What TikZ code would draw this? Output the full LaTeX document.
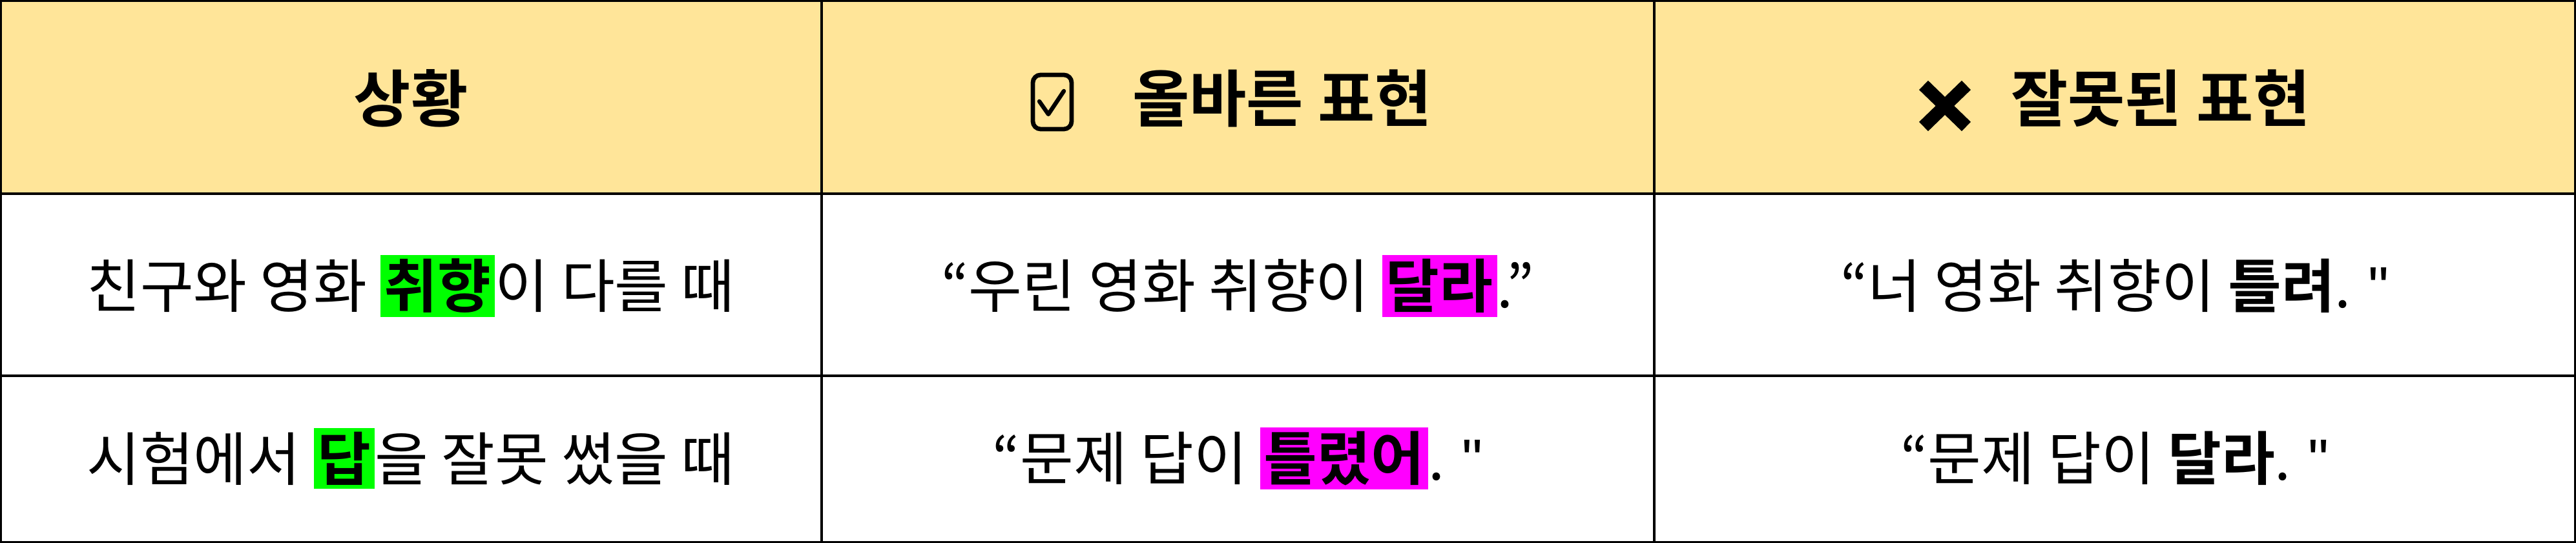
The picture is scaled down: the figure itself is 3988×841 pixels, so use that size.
\documentclass[tikz,border=0pt]{standalone}
\usepackage{fontspec}
\setmainfont{Noto Sans CJK KR}[BoldFont={Noto Sans CJK KR Bold}]
\newfontfamily\qf{Liberation Sans}
\definecolor{hdr}{HTML}{FFE599}
\definecolor{hg}{HTML}{00FF00}
\definecolor{hm}{HTML}{FF00FF}
\newcommand{\hlg}[1]{{\setlength{\fboxsep}{1.5pt}\colorbox{hg}{\textbf{#1}}}}
\newcommand{\hlm}[1]{{\setlength{\fboxsep}{1.5pt}\colorbox{hm}{\textbf{#1}}}}
\newcommand{\sq}{{\qf\symbol{34}}}
\begin{document}
\begin{tikzpicture}[x=0.25pt,y=-0.25pt,
  hd/.style={font=\fontsize{24}{28}\selectfont\bfseries,anchor=center},
  bd/.style={font=\fontsize{22.5}{26}\selectfont,anchor=center},
  grid/.style={line width=1pt,draw=black}]
\useasboundingbox (0,0) rectangle (3988,841);
\fill[hdr] (0,0) rectangle (3988,300);
\draw[grid] (1,1) rectangle (3987,840);
\draw[grid] (0,300) -- (3988,300);
\draw[grid] (0,582) -- (3988,582);
\draw[grid] (1272,0) -- (1272,841);
\draw[grid] (2561,0) -- (2561,841);
\node[hd] (h1) at (636,152) {상황};
\node[hd] (h2) at (1985,152) {올바른 표현};
\node[hd] (h3) at (3345,152) {잘못된 표현};
% check icon
\draw[line width=1.7pt,rounded corners=3pt] (1599,116) rectangle (1659,200);
\draw[line width=1.6pt,line cap=round,line join=round] (1609,157) -- (1623,177) -- (1647,141);
% cross icon
\draw[line width=5pt] (2978,132) -- (3044,196) (3044,132) -- (2978,196);
\node[bd] (a1) at (636,443) {친구와 영화 \hlg{취향}이 다를 때};
\node[bd] (b1) at (1916,443) {“우린 영화 취향이 \hlm{달라}.”};
\node[bd] (c1) at (3274,443) {“너 영화 취향이 \textbf{틀려}. \sq};
\node[bd] (a2) at (636,710) {시험에서 \hlg{답}을 잘못 썼을 때};
\node[bd] (b2) at (1916,710) {“문제 답이 \hlm{틀렸어}. \sq};
\node[bd] (c2) at (3274,710) {“문제 답이 \textbf{달라}. \sq};
\end{tikzpicture}
\end{document}
